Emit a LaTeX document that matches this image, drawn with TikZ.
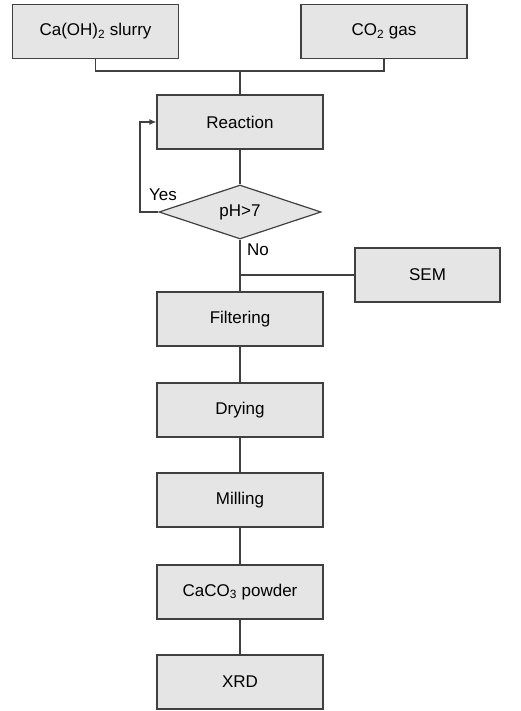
\documentclass[tikz,border=0pt]{standalone}
\usepackage{fontspec}
\setmainfont{Liberation Sans}
\usetikzlibrary{shapes.geometric,arrows.meta}

\begin{document}
\begin{tikzpicture}[x=1pt,y=-1pt,
    stepbox/.style={draw=black!75,line width=1.2pt,fill=black!10,minimum width=166pt,minimum height=54pt,inner sep=0pt,font=\fontsize{17}{19}\selectfont},
    testbox/.style={diamond,aspect=3,draw=black!75,line width=1.2pt,fill=black!10,minimum width=162pt,minimum height=54pt,inner sep=0pt,font=\fontsize{17}{19}\selectfont},
    link/.style={draw=black!75,line width=1.2pt},
    tag/.style={font=\fontsize{17}{19}\selectfont}]
  \useasboundingbox (0,0) rectangle (521,711);
  \node[stepbox] (slurry) at (95.5,31.5) {Ca(OH)\textsubscript{2} slurry};
  \node[stepbox] (gas) at (384,31.5) {CO\textsubscript{2} gas};
  \node[stepbox] (reaction) at (240,122) {Reaction};
  \node[testbox] (ph) at (240,212) {pH>7};
  \node[stepbox,minimum width=145pt] (sem) at (427.5,275) {SEM};
  \node[stepbox] (filtering) at (240,319) {Filtering};
  \node[stepbox] (drying) at (240,410) {Drying};
  \node[stepbox] (milling) at (240,500) {Milling};
  \node[stepbox] (powder) at (240,592) {CaCO\textsubscript{3} powder};
  \node[stepbox] (xrd) at (240,682) {XRD};
  \coordinate (join) at (240,71);
  \coordinate (tap) at (240,275);
  \coordinate (back) at (140,212);
  \draw[link] (slurry.south) |- (join) -| (gas.south);
  \draw[link] (join) -- (reaction.north);
  \draw[link] (reaction) -- (ph);
  \draw[link,-{Latex[length=7pt,width=6pt]}] (ph.west) -- (back) |- (reaction.west);
  \node[tag] (yes) at (163,195) {Yes};
  \draw[link] (ph.south) -- (filtering.north);
  \node[tag] (no) at (258,250) {No};
  \draw[link] (tap) -- (sem.west);
  \draw[link] (filtering) -- (drying);
  \draw[link] (drying) -- (milling);
  \draw[link] (milling) -- (powder);
  \draw[link] (powder) -- (xrd);
\end{tikzpicture}
\end{document}
